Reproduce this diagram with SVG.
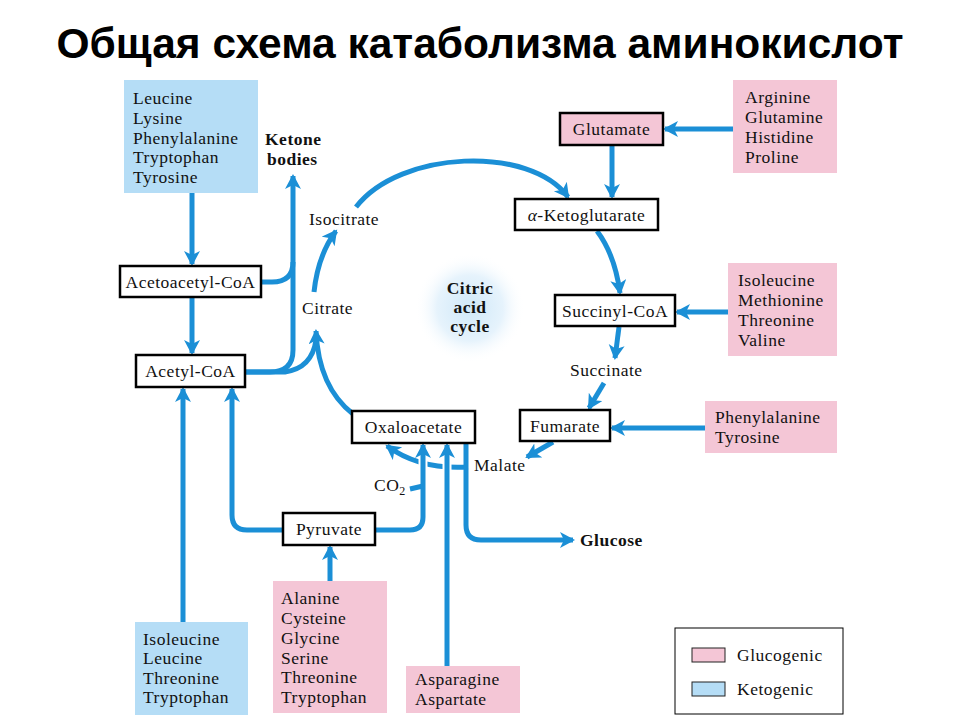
<svg xmlns="http://www.w3.org/2000/svg" width="960" height="720" viewBox="0 0 960 720">
<defs>
<style>
.t{font-family:"Liberation Serif","Times New Roman",serif;font-size:17.5px;letter-spacing:0.5px;fill:#111}
.b{font-weight:bold}
.c{text-anchor:middle}
.node{fill:#fff;stroke:#000;stroke-width:2.5}
.pink{fill:#f4c6d6}
.blue{fill:#b5ddf6}
.ar{fill:none;stroke:#1b8fd6;stroke-width:5;marker-end:url(#ah)}
.ln{fill:none;stroke:#1b8fd6;stroke-width:5}
.gap{fill:none;stroke:#fff;stroke-width:9}
</style>
<marker id="ah" markerUnits="userSpaceOnUse" markerWidth="18" markerHeight="18" refX="13" refY="8" orient="auto">
<path d="M0,0 L15,8 L0,16 L4,8 z" fill="#1b8fd6"/>
</marker>
<radialGradient id="glow">
<stop offset="0" stop-color="#cfe8f8"/>
<stop offset="0.6" stop-color="#e6f3fc"/>
<stop offset="1" stop-color="#fff" stop-opacity="0"/>
</radialGradient>
</defs>
<rect width="960" height="720" fill="#fff"/>
<text x="480" y="58" font-family="Liberation Sans, Arial, sans-serif" font-weight="bold" font-size="42.5" text-anchor="middle" fill="#000">Общая схема катаболизма аминокислот</text>

<circle cx="470" cy="308" r="55" fill="url(#glow)"/>

<g id="connectors">
<path class="ar" d="M192 193 L192 264"/>
<path class="ar" d="M192 297 L192 353"/>
<path class="ln" d="M261 282 L272 282 Q293 282 293 262"/>
<path class="ar" d="M245 372 L270 372 Q293 372 293 350 L293 176"/>
<path class="ln" d="M245 372 L285 372 Q312 368 316 340"/>
<path class="ar" d="M353 414 C335 400 318 375 316 331"/>
<path class="ar" d="M314 292 Q318 255 336 231"/>
<path class="ar" d="M356 207 C400 150 530 145 568 197"/>
<path class="ar" d="M612 145 L612 197"/>
<path class="ar" d="M733 129 L665 129"/>
<path class="ar" d="M597 231 Q615 255 620 293"/>
<path class="ar" d="M728 312 L677 312"/>
<path class="ar" d="M619 327 L615 358"/>
<path class="ar" d="M604 383 L589 408"/>
<path class="ar" d="M705 428 L612 428"/>
<path class="ar" d="M553 442 L527 457"/>
<path class="ar" d="M468 467 Q420 470 387 446"/>
<path class="gap" d="M423 520 L423 455"/>
<path class="gap" d="M447 666 L447 455"/>
<path class="ar" d="M375 530 L410 530 Q423 530 423 517 L423 445"/>
<path class="ln" d="M410 489 L423 486"/>
<path class="ar" d="M447 666 L447 445"/>
<path class="ar" d="M466 443 L466 525 Q466 540 481 540 L573 540"/>
<path class="ar" d="M283 530 L247 530 Q232 530 232 515 L232 389"/>
<path class="ar" d="M183 622 L183 389"/>
<path class="ar" d="M330 581 L330 547"/>
</g>

<g id="keto-top">
<rect class="blue" x="124" y="80" width="134" height="113"/>
<text class="t" x="133" y="104">Leucine</text>
<text class="t" x="133" y="124">Lysine</text>
<text class="t" x="133" y="144">Phenylalanine</text>
<text class="t" x="133" y="163">Tryptophan</text>
<text class="t" x="133" y="183">Tyrosine</text>
</g>
<g id="ketone">
<text class="t b" x="265" y="145">Ketone</text>
<text class="t b" x="267" y="165">bodies</text>
</g>
<g id="acetoacetyl">
<rect class="node" x="120" y="266" width="141" height="31"/>
<text class="t c" x="190.5" y="288">Acetoacetyl-CoA</text>
</g>
<g id="acetyl">
<rect class="node" x="136" y="355" width="109" height="32"/>
<text class="t c" x="190.5" y="377">Acetyl-CoA</text>
</g>
<g id="isocitrate"><text class="t" x="309" y="225">Isocitrate</text></g>
<g id="citrate"><text class="t" x="302" y="314">Citrate</text></g>
<g id="cycle">
<text class="t b c" x="470" y="294">Citric</text>
<text class="t b c" x="470" y="313">acid</text>
<text class="t b c" x="470" y="332">cycle</text>
</g>
<g id="glutamate">
<rect class="node pink" x="560" y="113" width="103" height="32"/>
<text class="t c" x="611.5" y="135">Glutamate</text>
</g>
<g id="akg">
<rect class="node" x="515" y="199" width="143" height="31"/>
<text class="t c" x="586.5" y="221"><tspan font-style="italic">α</tspan>-Ketoglutarate</text>
</g>
<g id="succinylcoa">
<rect class="node" x="555" y="295" width="120" height="31"/>
<text class="t c" x="615" y="317">Succinyl-CoA</text>
</g>
<g id="succinate"><text class="t" x="570" y="376">Succinate</text></g>
<g id="fumarate">
<rect class="node" x="520" y="410" width="90" height="31"/>
<text class="t c" x="565" y="432">Fumarate</text>
</g>
<g id="malate"><text class="t" x="474" y="471">Malate</text></g>
<g id="oxaloacetate">
<rect class="node" x="352" y="411" width="123" height="32"/>
<text class="t c" x="413.5" y="433">Oxaloacetate</text>
</g>
<g id="co2"><text class="t" x="374" y="491">CO<tspan font-size="12" dy="4">2</tspan></text></g>
<g id="pyruvate">
<rect class="node" x="283" y="513" width="92" height="32"/>
<text class="t c" x="329" y="535">Pyruvate</text>
</g>
<g id="glucose"><text class="t b" x="580" y="546">Glucose</text></g>
<g id="glu-src">
<rect class="pink" x="733" y="80" width="104" height="93"/>
<text class="t" x="745" y="103">Arginine</text>
<text class="t" x="745" y="123">Glutamine</text>
<text class="t" x="745" y="143">Histidine</text>
<text class="t" x="745" y="163">Proline</text>
</g>
<g id="succ-src">
<rect class="pink" x="728" y="263" width="109" height="93"/>
<text class="t" x="738" y="286">Isoleucine</text>
<text class="t" x="738" y="306">Methionine</text>
<text class="t" x="738" y="326">Threonine</text>
<text class="t" x="738" y="346">Valine</text>
</g>
<g id="fum-src">
<rect class="pink" x="705" y="401" width="132" height="52"/>
<text class="t" x="715" y="423">Phenylalanine</text>
<text class="t" x="715" y="443">Tyrosine</text>
</g>
<g id="keto-bottom">
<rect class="blue" x="135" y="622" width="113" height="93"/>
<text class="t" x="143" y="645">Isoleucine</text>
<text class="t" x="143" y="664">Leucine</text>
<text class="t" x="143" y="684">Threonine</text>
<text class="t" x="143" y="703">Tryptophan</text>
</g>
<g id="pyr-src">
<rect class="pink" x="273" y="581" width="114" height="132"/>
<text class="t" x="281" y="604">Alanine</text>
<text class="t" x="281" y="624">Cysteine</text>
<text class="t" x="281" y="644">Glycine</text>
<text class="t" x="281" y="664">Serine</text>
<text class="t" x="281" y="683">Threonine</text>
<text class="t" x="281" y="703">Tryptophan</text>
</g>
<g id="oaa-src">
<rect class="pink" x="406" y="666" width="114" height="47"/>
<text class="t" x="415" y="685">Asparagine</text>
<text class="t" x="415" y="705">Aspartate</text>
</g>
<g id="legend">
<rect x="675" y="628" width="168" height="86" fill="#fff" stroke="#000" stroke-width="1"/>
<rect class="pink" x="692" y="648" width="33" height="14" stroke="#222" stroke-width="1"/>
<text class="t" x="737" y="661">Glucogenic</text>
<rect class="blue" x="692" y="682" width="33" height="14" stroke="#222" stroke-width="1"/>
<text class="t" x="737" y="695">Ketogenic</text>
</g>
</svg>
